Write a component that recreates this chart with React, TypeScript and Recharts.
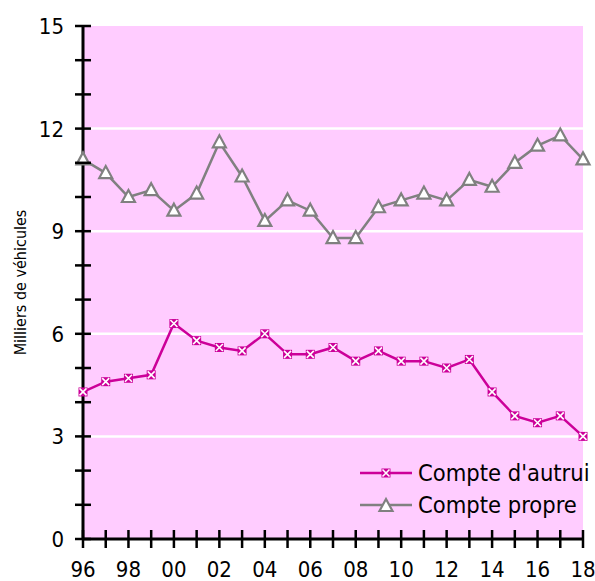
import { LineChart, Line, XAxis, YAxis, CartesianGrid, ReferenceLine, Legend } from 'recharts'

const years = ['96', '97', '98', '99', '00', '01', '02', '03', '04', '05', '06', '07', '08', '09', '10', '11', '12', '13', '14', '15', '16', '17', '18']
const compteAutrui = [4.3, 4.6, 4.7, 4.8, 6.3, 5.8, 5.6, 5.5, 6.0, 5.4, 5.4, 5.6, 5.2, 5.5, 5.2, 5.2, 5.0, 5.25, 4.3, 3.6, 3.4, 3.6, 3.0]
const comptePropre = [11.1, 10.7, 10.0, 10.2, 9.6, 10.1, 11.6, 10.6, 9.3, 9.9, 9.6, 8.8, 8.8, 9.7, 9.9, 10.1, 9.9, 10.5, 10.3, 11.0, 11.5, 11.8, 11.1]
const yTicks = [0, 1, 2, 3, 4, 5, 6, 7, 8, 9, 10, 11, 12, 13, 14, 15]
const yLabelled = [0, 3, 6, 9, 12, 15]
const gridValues = [3, 6, 9, 12]

const data = years.map((year, i) => ({ year, autrui: compteAutrui[i], propre: comptePropre[i] }))

const FONT = '"DejaVu Sans Condensed", "DejaVu Sans", sans-serif'
const textStyle = { fontStretch: 'condensed' as const }
const MAGENTA = '#CC0099'
const GREY = '#808080'
const PINK = '#FFCCFF'

function CrossDot({ cx, cy }: { cx: number; cy: number }) {
  return (
    <g>
      <rect x={cx - 4.5} y={cy - 4.5} width={9} height={9} fill={MAGENTA} />
      <path d={`M${cx - 3.5},${cy - 3.5}L${cx + 3.5},${cy + 3.5}M${cx - 3.5},${cy + 3.5}L${cx + 3.5},${cy - 3.5}`} stroke="#fff" strokeWidth={1.6} />
    </g>
  )
}

function TriangleDot({ cx, cy }: { cx: number; cy: number }) {
  return (
    <path d={`M${cx},${cy - 7}L${cx + 6.5},${cy + 5}L${cx - 6.5},${cy + 5}Z`} fill="#fff" stroke={GREY} strokeWidth={2.2} />
  )
}

const YTick = (props: any) => {
  const { x, y, payload } = props
  const v = payload.value
  return (
    <g>
      <line x1={x - 8} x2={x + 8} y1={y} y2={y} stroke="#000" strokeWidth={2.5} />
      {yLabelled.includes(v) && (
        <text x={x - 19} y={y} dy={8} textAnchor="end" fontFamily={FONT} style={textStyle} fontSize={22} fill="#000">{v}</text>
      )}
    </g>
  )
}

const XTick = (props: any) => {
  const { x, y, payload, index } = props
  return (
    <g>
      <line x1={x} x2={x} y1={y - 9} y2={y + 9} stroke="#000" strokeWidth={2.5} />
      {index % 2 === 0 && (
        <text x={x} y={y + 38} textAnchor="middle" fontFamily={FONT} style={textStyle} fontSize={22} fill="#000">{payload.value}</text>
      )}
    </g>
  )
}

const renderLegend = (props: any) => {
  const items = props.payload || []
  return (
    <div>
      {items.map((it: any) => (
        <div key={it.value} style={{ display: 'flex', alignItems: 'center', height: 32, whiteSpace: 'nowrap' }}>
          <svg width={58} height={20}>
            <line x1={0} x2={52} y1={10} y2={10} stroke={it.color} strokeWidth={2.5} />
            {it.dataKey === 'autrui' ? <CrossDot cx={26} cy={10} /> : <TriangleDot cx={26} cy={11} />}
          </svg>
          <span style={{ fontFamily: FONT, fontStretch: 'condensed', fontSize: 23.5, color: '#000', lineHeight: '32px' }}>{it.value}</span>
        </div>
      ))}
    </div>
  )
}

export default function App() {
  return (
    <div style={{ position: 'absolute', left: 0, top: 0, width: 595, height: 581, background: '#fff' }}>
      <LineChart width={595} height={581} data={data} margin={{ top: 26, right: 12, bottom: 0, left: 0 }}>
        <CartesianGrid fill={PINK} fillOpacity={1} horizontal={false} vertical={false} stroke="none" />
        {gridValues.map((v) => (
          <ReferenceLine key={v} y={v} stroke="#fff" strokeWidth={2.5} ifOverflow="hidden" />
        ))}
        <XAxis
          dataKey="year"
          interval={0}
          tickSize={0}
          tickMargin={0}
          tick={<XTick />}
          axisLine={{ stroke: '#000', strokeWidth: 3 }}
          tickLine={false}
          height={42}
        />
        <YAxis
          domain={[0, 15]}
          ticks={yTicks}
          interval={0}
          width={83}
          tickSize={0}
          tickMargin={0}
          tick={<YTick />}
          axisLine={{ stroke: '#000', strokeWidth: 3 }}
          tickLine={false}
          label={{
            content: (p: any) => {
              const vb = p.viewBox
              const cx = 20
              const cy = vb.y + vb.height / 2
              return (
                <text x={cx} y={cy} transform={`rotate(-90 ${cx} ${cy})`} textAnchor="middle" dominantBaseline="central" fontFamily={FONT} style={textStyle} fontSize={16} fill="#000">
                  Milliers de véhicules
                </text>
              )
            },
          }}
        />
        <Legend
          layout="vertical"
          align="center"
          verticalAlign="middle"
          content={renderLegend}
          wrapperStyle={{ left: 360, top: 457, width: 230 }}
        />
        <Line
          dataKey="autrui"
          name="Compte d'autrui"
          stroke={MAGENTA}
          strokeWidth={2.5}
          isAnimationActive={false}
          dot={(p: any) => <CrossDot key={p.index} cx={p.cx} cy={p.cy} />}
        />
        <Line
          dataKey="propre"
          name="Compte propre"
          stroke={GREY}
          strokeWidth={2.5}
          isAnimationActive={false}
          dot={(p: any) => <TriangleDot key={p.index} cx={p.cx} cy={p.cy} />}
        />
      </LineChart>
    </div>
  )
}
